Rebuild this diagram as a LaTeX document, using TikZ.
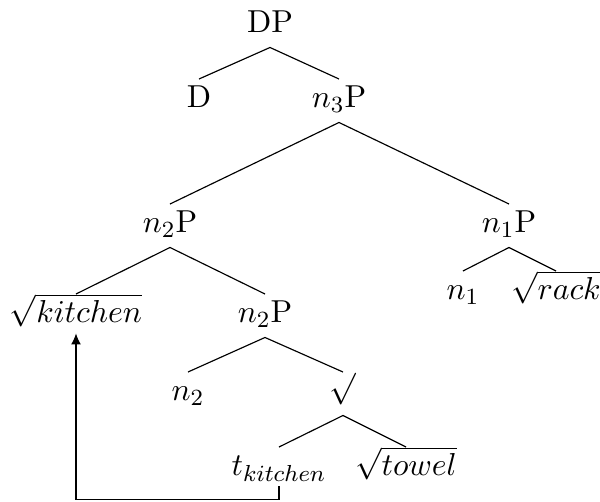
\documentclass[tikz,border=0pt]{standalone}
\usetikzlibrary{arrows.meta}
\begin{document}
\begin{tikzpicture}[x=0.345pt,y=-0.345pt,
  font=\fontsize{10.95pt}{13.6pt}\selectfont,
  tn/.style={inner xsep=0pt, inner ysep=2.2pt, text height=7.6pt, text depth=2.6pt, anchor=base},
  branch/.style={line width=0.4pt},
  move/.style={line width=0.4pt,-{Latex[length=3.8pt,width=3.4pt]}}]
\useasboundingbox (0,0) rectangle (600,502);
\node[tn] (DP) at (270,33) {DP};
\node[tn] (D) at (199,108) {D};
\node[tn] (n3P) at (339,108) {$n_3$P};
\node[tn] (n2PL) at (170,233) {$n_2$P};
\node[tn] (n1P) at (509,233) {$n_1$P};
\node[tn] (kit) at (76,323) {$\sqrt{kitchen}$};
\node[tn] (n2PR) at (265,323) {$n_2$P};
\node[tn] (n1) at (463,300) {$n_1$};
\node[tn] (rack) at (556,300) {$\sqrt{rack}$};
\node[tn] (n2) at (188,401) {$n_2$};
\node[tn] (rt) at (343,401) {$\sqrt{\vphantom{k}}$};
\node[tn] (tk) at (279,476) {$t_{kitchen}$};
\node[tn] (towel) at (406,476) {$\sqrt{towel}$};
\draw[branch] (DP.south) -- (D.north);
\draw[branch] (DP.south) -- (n3P.north);
\draw[branch] (n3P.south) -- (n2PL.north);
\draw[branch] (n3P.south) -- (n1P.north);
\draw[branch] (n2PL.south) -- (kit.north);
\draw[branch] (n2PL.south) -- (n2PR.north);
\draw[branch] (n1P.south) -- (n1.north);
\draw[branch] (n1P.south) -- (rack.north);
\draw[branch] (n2PR.south) -- (n2.north);
\draw[branch] (n2PR.south) -- (rt.north);
\draw[branch] (rt.south) -- (tk.north);
\draw[branch] (rt.south) -- (towel.north);
\draw[move] ([yshift=1.4pt]tk.south) -- ++(0,13) -| ([yshift=1.4pt]kit.south);
\end{tikzpicture}
\end{document}
